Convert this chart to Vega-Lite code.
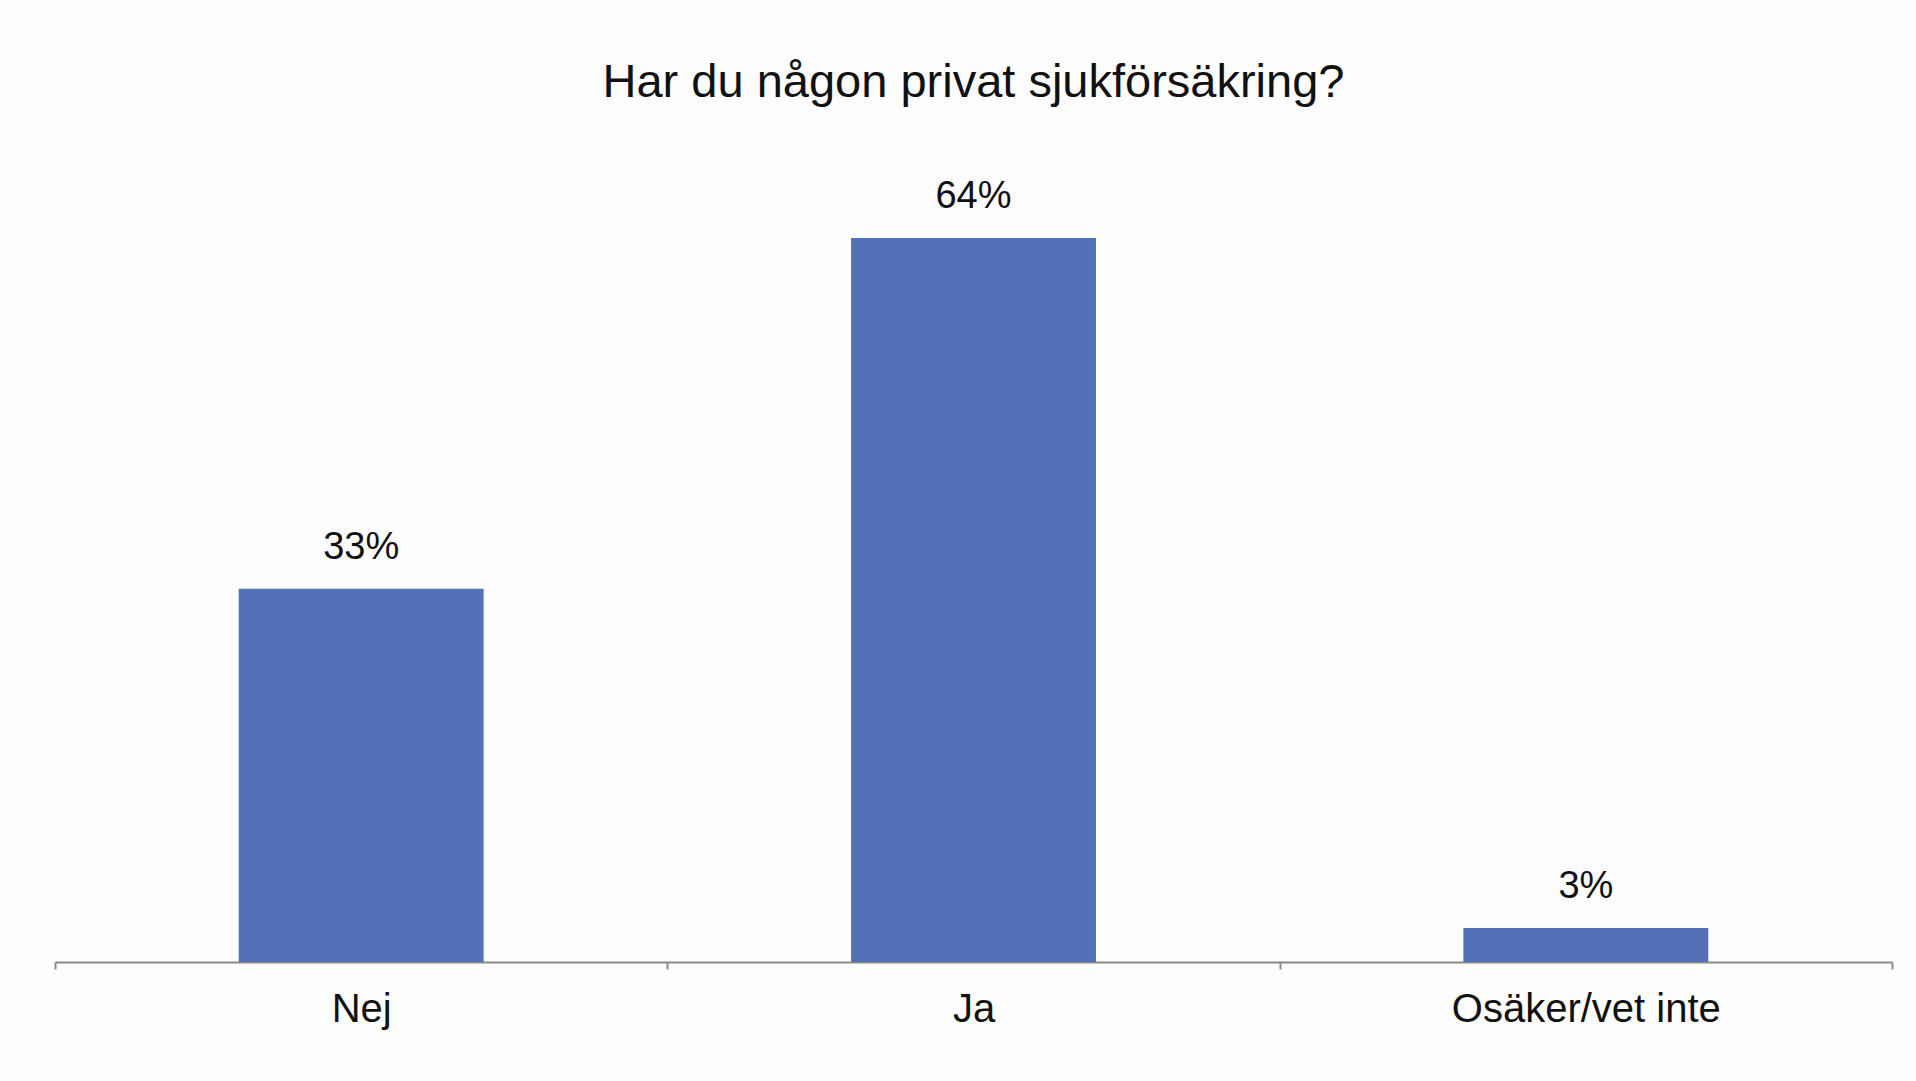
{
  "$schema": "https://vega.github.io/schema/vega-lite/v6.json",
  "width": 1837,
  "height": 792,
  "autosize": {"type": "none"},
  "padding": {"left": 55, "top": 170, "right": 24, "bottom": 119},
  "background": "#fdfdfd",
  "title": {
    "text": "Har du någon privat sjukförsäkring?",
    "font": "Liberation Sans",
    "fontSize": 47,
    "fontWeight": "normal",
    "color": "#111111",
    "anchor": "middle",
    "offset": 63
  },
  "data": {
    "values": [
      {"svar": "Nej", "andel": 0.33},
      {"svar": "Ja", "andel": 0.64},
      {"svar": "Osäker/vet inte", "andel": 0.03}
    ]
  },
  "encoding": {
    "x": {
      "field": "svar",
      "type": "nominal",
      "sort": null,
      "scale": {"paddingInner": 0, "paddingOuter": 0},
      "axis": {
        "title": null,
        "labelAngle": 0,
        "labelLimit": 0,
        "labelFont": "Liberation Sans",
        "labelFontSize": 40,
        "labelColor": "#111111",
        "labelPadding": 20,
        "domainColor": "#8a8a8a",
        "domainWidth": 2,
        "tickColor": "#8a8a8a",
        "tickWidth": 2,
        "tickSize": 7,
        "tickBand": "extent"
      }
    },
    "y": {
      "field": "andel",
      "type": "quantitative",
      "scale": {"domain": [0, 0.7]},
      "axis": null
    }
  },
  "layer": [
    {"mark": {"type": "bar", "color": "#5371b7", "width": {"band": 0.4}}},
    {
      "mark": {"type": "text", "baseline": "bottom", "dy": -22, "font": "Liberation Sans", "fontSize": 38, "color": "#111111"},
      "encoding": {
        "text": {"field": "andel", "type": "quantitative", "format": ".0%"}
      }
    }
  ],
  "config": {"view": {"stroke": null}}
}
